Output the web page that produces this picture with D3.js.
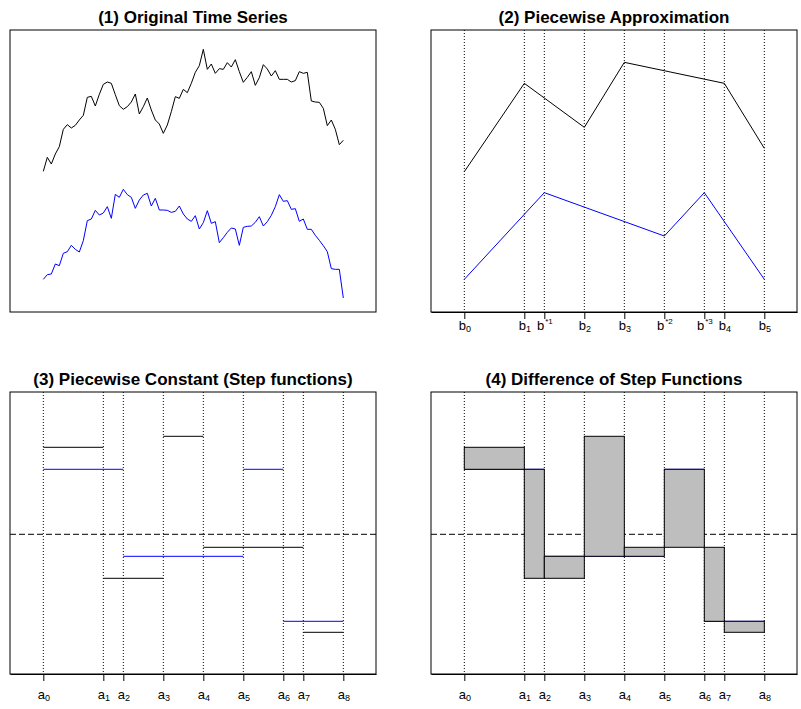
<!DOCTYPE html>
<html>
<head>
<meta charset="utf-8">
<script src="https://cdn.jsdelivr.net/npm/d3@7"></script>
<style>
  body { margin: 0; background: #fff; }
  text { font-family: "Liberation Sans", Arial, Helvetica, sans-serif; }
</style>
</head>
<body>
<svg id="chart" width="801" height="709"></svg>
<script>
// original series (index 1..76)
const seriesBlack = [7.6, 11.8, 9.8, 12.8, 15.0, 20.2, 21.6, 20.6, 21.4, 23.0, 24.4, 29.8, 30.1, 27.2, 30.7, 33.7,
  34.4, 34.0, 30.6, 27.3, 26.2, 27.0, 28.4, 30.8, 24.8, 27.0, 29.6, 26.0, 23.0, 21.8, 19.0, 21.5, 25.5, 30.0,
  29.5, 32.2, 31.2, 34.0, 37.3, 39.3, 44.2, 38.2, 39.8, 37.0, 38.4, 38.2, 40.2, 38.9, 41.1, 37.5, 34.3, 35.8,
  37.5, 33.4, 35.7, 39.6, 38.3, 36.2, 37.8, 35.2, 35.2, 35.2, 34.4, 34.8, 37.5, 37.0, 37.3, 28.7, 28.4, 28.3,
  26.5, 21.3, 23.0, 20.2, 15.6, 16.9];
const seriesBlue = [-24.8, -23.4, -23.2, -20.2, -20.7, -17.0, -16.5, -14.6, -15.8, -16.6, -13.2, -7.2, -6.7,
  -4.1, -5.5, -4.9, -3.0, -6.5, 0.7, -0.2, 2.2, 0.6, -0.2, -3.5, -1.0, 0.5, 1.0, -2.8, -0.5, -4.0, -4.0, -4.1,
  -4.7, -4.4, -2.8, -5.2, -6.7, -7.4, -5.7, -9.7, -7.8, -4.2, -8.0, -7.5, -13.8, -12.3, -10.7, -9.4, -9.7, -14.6,
  -9.2, -8.9, -8.8, -7.7, -6.0, -8.8, -7.5, -5.6, -3.0, 0.6, -1.4, -1.2, -3.8, -3.6, -7.4, -6.7, -9.8, -9.8,
  -11.6, -13.1, -14.7, -16.5, -21.6, -21.8, -21.8, -30.4];

// breakpoints (index into the series) and their labels
const breakPos = [1, 16, 21, 31, 41, 51, 61, 66, 76];
const bSub = ["0", "1", "", "2", "3", "", "", "4", "5"];
const bSup = ["", "", "*1", "", "", "*2", "*3", "", ""];
const aSub = ["0", "1", "2", "3", "4", "5", "6", "7", "8"];

// (2) piecewise linear approximation: vertices (break index) and values
const pwaBlackIdx = [0, 1, 3, 4, 7, 8];
const pwaBlackVal = [7.5, 34.0, 20.8, 40.3, 34.0, 14.5];
const pwaBlueIdx = [0, 2, 5, 6, 8];
const pwaBlueVal = [-24.8, 1.2, -11.8, 1.2, -24.8];

// (3) step functions: edges (break index) and level of each step
const stepBlackIdx = [0, 1, 3, 4, 7, 8];
const stepBlackVal = [8.7, -4.4, 9.8, -1.3, -9.8];
const stepBlueIdx = [0, 2, 5, 6, 8];
const stepBlueVal = [6.5, -2.2, 6.5, -8.7];

const W = 366, H = 282;
const svg = d3.select("#chart");

const x = d3.scaleLinear().domain([-7.33, 84.17]).range([0, W]);
const yTs = d3.scaleLinear().domain([-34.6, 50]).range([H, 0]);
const yStep = d3.scaleLinear().domain([-13.97, 14.23]).range([H, 0]);

function panel(left, top, title) {
  const g = svg.append("g").attr("transform", `translate(${left},${top})`);
  g.append("text").attr("x", W / 2).attr("y", -7).attr("text-anchor", "middle")
    .attr("font-weight", "bold").attr("font-size", 17).text(title);
  return g;
}

function box(g) {
  g.append("rect").attr("width", W).attr("height", H)
    .attr("fill", "none").attr("stroke", "#000").attr("stroke-width", 1);
}

function verticals(g) {
  g.selectAll("line.v").data(breakPos).join("line").attr("class", "v")
    .attr("x1", d => x(d)).attr("x2", d => x(d)).attr("y1", 0).attr("y2", H)
    .attr("stroke", "#000").attr("stroke-dasharray", "1,2");
}

function axis(g, base, sub, sup, labelY) {
  const ax = g.append("g").attr("transform", `translate(0,${H})`)
    .call(d3.axisBottom(x).tickValues(breakPos).tickSize(7).tickSizeOuter(0).tickFormat(""));
  ax.select(".domain").attr("stroke", "#000");
  ax.selectAll(".tick line").attr("stroke", "#000");
  ax.selectAll(".tick text").each(function (d, i) {
    const t = d3.select(this).attr("y", labelY).attr("dy", null)
      .attr("font-size", 13).attr("fill", "#000").text(null);
    t.append("tspan").text(base);
    if (sub[i]) t.append("tspan").attr("font-size", 9).attr("dy", 2).text(sub[i]);
    if (sup && sup[i]) t.append("tspan").attr("font-size", 8).attr("dy", -6).attr("dx", 1).text(sup[i]);
  });
}

const lineTs = d3.line().x((d, i) => x(i + 1)).y(d => yTs(d));

// (1) Original Time Series
const p1 = panel(10, 30, "(1) Original Time Series");
p1.append("path").datum(seriesBlack).attr("d", lineTs).attr("fill", "none").attr("stroke", "#000");
p1.append("path").datum(seriesBlue).attr("d", lineTs).attr("fill", "none").attr("stroke", "#0000ff");
box(p1);

// (2) Piecewise Approximation
const p2 = panel(431, 30, "(2) Piecewise Approximation");
verticals(p2);
const linePwa = d3.line().x(d => x(breakPos[d[0]])).y(d => yTs(d[1]));
p2.append("path").datum(d3.zip(pwaBlackIdx, pwaBlackVal)).attr("d", linePwa)
  .attr("fill", "none").attr("stroke", "#000");
p2.append("path").datum(d3.zip(pwaBlueIdx, pwaBlueVal)).attr("d", linePwa)
  .attr("fill", "none").attr("stroke", "#0000ff");
box(p2);
axis(p2, "b", bSub, bSup, 18);

function steps(idx, val) {
  return val.map((v, i) => ({ x0: breakPos[idx[i]], x1: breakPos[idx[i + 1]], v }));
}
function levelAt(idx, val, xv) {
  for (let i = 0; i < val.length; i++)
    if (xv >= breakPos[idx[i]] && xv < breakPos[idx[i + 1]]) return val[i];
  return val[val.length - 1];
}
function zeroLine(g) {
  g.append("line").attr("x1", 0).attr("x2", W).attr("y1", yStep(0)).attr("y2", yStep(0))
    .attr("stroke", "#000").attr("stroke-dasharray", "6,3");
}
function stepLines(g, idx, val, color) {
  g.append("g").selectAll("line").data(steps(idx, val)).join("line")
    .attr("x1", d => x(d.x0)).attr("x2", d => x(d.x1))
    .attr("y1", d => yStep(d.v)).attr("y2", d => yStep(d.v))
    .attr("stroke", color);
}

// (3) Piecewise Constant
const p3 = panel(10, 392, "(3) Piecewise Constant (Step functions)");
verticals(p3);
zeroLine(p3);
stepLines(p3, stepBlackIdx, stepBlackVal, "#000");
stepLines(p3, stepBlueIdx, stepBlueVal, "#0000ff");
box(p3);
axis(p3, "a", aSub, null, 25);

// (4) Difference of Step Functions
const p4 = panel(431, 392, "(4) Difference of Step Functions");
verticals(p4);
zeroLine(p4);
stepLines(p4, stepBlueIdx, stepBlueVal, "#0000ff");
const diffs = d3.pairs(breakPos).map(([a, b]) => ({
  a, b,
  k: levelAt(stepBlackIdx, stepBlackVal, a),
  u: levelAt(stepBlueIdx, stepBlueVal, a)
}));
p4.append("g").selectAll("rect").data(diffs).join("rect")
  .attr("x", d => x(d.a)).attr("width", d => x(d.b) - x(d.a))
  .attr("y", d => yStep(Math.max(d.k, d.u)))
  .attr("height", d => Math.abs(yStep(d.k) - yStep(d.u)))
  .attr("fill", "#bebebe").attr("stroke", "#000");
box(p4);
axis(p4, "a", aSub, null, 25);
</script>
</body>
</html>
